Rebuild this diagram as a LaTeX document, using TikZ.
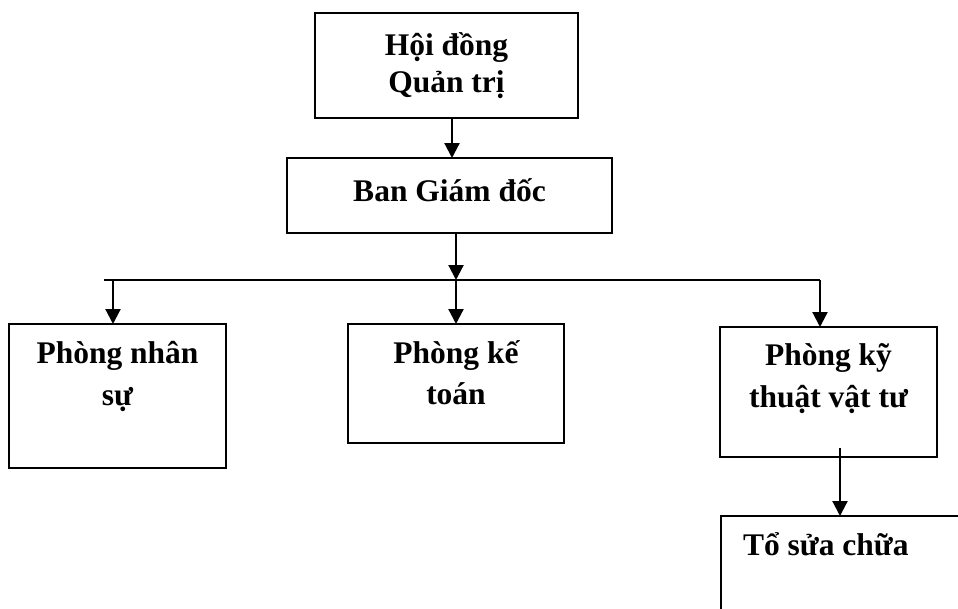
\documentclass[tikz,border=0pt]{standalone}
\usepackage{fontspec}
\setmainfont{Liberation Serif}
\usetikzlibrary{arrows.meta}

% text block hanging from the top edge of a box:
% #1 width, #2 first baseline below the top, #3 line distance, #4 lines
\newcommand\orgtext[4]{%
  \parbox[t]{#1}{\centering\baselineskip=#3\relax\rule{0pt}{#2}#4\par}}

\tikzset{
  orgbox/.style={draw, line width=2.2pt, inner sep=0pt, outer sep=0pt, anchor=north west},
  orglabel/.style={anchor=north, inner sep=0pt, outer sep=0pt,
    font=\bfseries\fontsize{31.5}{37}\selectfont},
  link/.style={line width=2.2pt},
  arrowlink/.style={link, -{Triangle[length=15pt,width=15pt]}},
}

\begin{document}
\begin{tikzpicture}[x=1pt, y=-1pt]
\clip (0,0) rectangle (958,608);
\fill[white] (0,0) rectangle (958,608);

% boxes
\node[orgbox, minimum width=263pt, minimum height=105pt] (hdqt) at (315,13) {};
\node[orgbox, minimum width=325pt, minimum height=75pt]  (bgd)  at (287,158) {};
\node[orgbox, minimum width=217pt, minimum height=144pt] (pns)  at (9,324) {};
\node[orgbox, minimum width=216pt, minimum height=119pt] (pkt)  at (348,324) {};
\node[orgbox, minimum width=217pt, minimum height=130pt] (pktvt) at (720,327) {};
\node[orgbox, minimum width=260pt, minimum height=130pt] (tsc)  at (721,516) {};

% box texts
\node[orglabel] (hdqt-t)  at (hdqt.north)  {\orgtext{250pt}{42pt}{37pt}{Hội đồng\\Quản trị}};
\node[orglabel] (bgd-t)   at (bgd.north)   {\orgtext{310pt}{43pt}{37pt}{Ban Giám đốc}};
\node[orglabel] (pns-t)   at (pns.north)   {\orgtext{210pt}{39pt}{42pt}{Phòng nhân\\sự}};
\node[orglabel] (pkt-t)   at (pkt.north)   {\orgtext{210pt}{39pt}{41pt}{Phòng kế\\toán}};
\node[orglabel] (pktvt-t) at (pktvt.north) {\orgtext{210pt}{38pt}{42pt}{Phòng kỹ\\thuật vật tư}};
\node[orglabel, anchor=north west] (tsc-t) at ([xshift=22pt]tsc.north west)
  {\rule{0pt}{39pt}Tổ sửa chữa};

% connectors
\coordinate (bus)  at (456,280);
\coordinate (busL) at (104,280);
\coordinate (busR) at (820,280);
\coordinate (kt-tail) at (840,448);

\draw[arrowlink] (hdqt.south -| 452,0) -- (bgd.north -| 452,0);
\draw[arrowlink] (bgd.south -| bus) -- (bus);
\draw[link] (busL) -- (busR);
\draw[arrowlink] (113,280) -- (pns.north -| 113,0);
\draw[arrowlink] (bus) -- (pkt.north -| bus);
\draw[arrowlink] (busR) -- (pktvt.north -| busR);
\draw[arrowlink] (kt-tail) -- (tsc.north -| kt-tail);
\end{tikzpicture}
\end{document}
